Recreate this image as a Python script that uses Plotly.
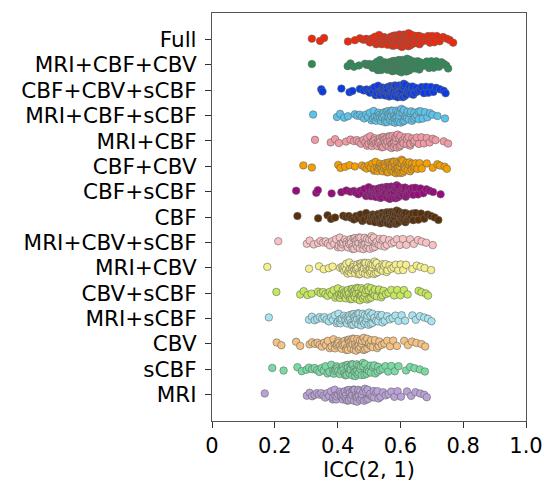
import plotly.graph_objects as go

categories = ["Full", "MRI+CBF+CBV", "CBF+CBV+sCBF", "MRI+CBF+sCBF", "MRI+CBF", "CBF+CBV",
              "CBF+sCBF", "CBF", "MRI+CBV+sCBF", "MRI+CBV", "CBV+sCBF", "MRI+sCBF", "CBV", "sCBF", "MRI"]

colors = ["#f0280a", "#2e8b57", "#0a3ce6", "#5ac4ec", "#f29aa4", "#f59e00", "#990a7e", "#5a300a",
          "#f8c2c4", "#f6f08c", "#c6e85c", "#a8e4f0", "#f4c282", "#78dca2", "#baa2d8"]

full = [0.318, 0.344, 0.357, 0.433, 0.455, 0.471, 0.482, 0.491, 0.498, 0.503, 0.509, 0.514, 0.519, 0.523, 0.528, 0.532, 0.536, 0.541, 0.545, 0.548, 0.552, 0.556, 0.559, 0.562, 0.566, 0.569, 0.572, 0.575, 0.578, 0.581, 0.584, 0.587, 0.589, 0.592, 0.595, 0.597, 0.600, 0.603, 0.605, 0.608, 0.611, 0.614, 0.616, 0.619, 0.622, 0.625, 0.628, 0.631, 0.634, 0.637, 0.641, 0.644, 0.648, 0.652, 0.656, 0.661, 0.665, 0.670, 0.676, 0.682, 0.688, 0.694, 0.701, 0.708, 0.716, 0.725, 0.736, 0.748, 0.757, 0.768, 0.585, 0.598, 0.612, 0.626, 0.573, 0.546, 0.639, 0.659, 0.602, 0.618]
mri_cbf_cbv = [0.318, 0.432, 0.441, 0.452, 0.468, 0.487, 0.494, 0.501, 0.507, 0.512, 0.517, 0.521, 0.526, 0.531, 0.535, 0.539, 0.543, 0.547, 0.551, 0.555, 0.559, 0.562, 0.566, 0.569, 0.573, 0.576, 0.579, 0.582, 0.585, 0.588, 0.591, 0.594, 0.597, 0.600, 0.603, 0.606, 0.609, 0.612, 0.615, 0.618, 0.621, 0.624, 0.627, 0.631, 0.634, 0.638, 0.642, 0.646, 0.650, 0.655, 0.660, 0.665, 0.671, 0.677, 0.684, 0.691, 0.698, 0.706, 0.714, 0.723, 0.731, 0.739, 0.746, 0.752, 0.593, 0.607, 0.581, 0.619, 0.567, 0.629, 0.553, 0.641, 0.598, 0.611, 0.574, 0.537, 0.662, 0.589, 0.604, 0.528]
cbf_cbv_scbf = [0.348, 0.352, 0.412, 0.438, 0.447, 0.471, 0.483, 0.492, 0.498, 0.503, 0.508, 0.513, 0.517, 0.521, 0.525, 0.529, 0.533, 0.537, 0.541, 0.545, 0.548, 0.552, 0.556, 0.559, 0.563, 0.566, 0.569, 0.573, 0.576, 0.579, 0.582, 0.585, 0.588, 0.592, 0.595, 0.598, 0.601, 0.604, 0.608, 0.611, 0.614, 0.618, 0.621, 0.625, 0.629, 0.633, 0.637, 0.641, 0.646, 0.651, 0.656, 0.662, 0.668, 0.675, 0.682, 0.689, 0.697, 0.705, 0.714, 0.726, 0.738, 0.744, 0.587, 0.571, 0.603, 0.558, 0.616, 0.543, 0.594, 0.579, 0.627, 0.535, 0.608, 0.564, 0.583, 0.639, 0.599, 0.551, 0.612, 0.574]
mri_cbf_scbf = [0.322, 0.398, 0.408, 0.421, 0.433, 0.455, 0.463, 0.471, 0.478, 0.485, 0.491, 0.497, 0.503, 0.508, 0.513, 0.518, 0.522, 0.527, 0.531, 0.535, 0.539, 0.543, 0.547, 0.551, 0.555, 0.559, 0.563, 0.567, 0.571, 0.575, 0.579, 0.583, 0.587, 0.591, 0.595, 0.599, 0.603, 0.607, 0.611, 0.615, 0.619, 0.623, 0.627, 0.632, 0.637, 0.642, 0.647, 0.652, 0.658, 0.664, 0.671, 0.678, 0.686, 0.694, 0.702, 0.718, 0.742, 0.568, 0.584, 0.552, 0.596, 0.541, 0.609, 0.576, 0.533, 0.621, 0.562, 0.588, 0.515, 0.634, 0.571, 0.601, 0.549, 0.659, 0.526, 0.613, 0.581, 0.558, 0.644, 0.593]
mri_cbf = [0.328, 0.378, 0.392, 0.404, 0.427, 0.441, 0.452, 0.461, 0.468, 0.475, 0.482, 0.488, 0.494, 0.499, 0.504, 0.509, 0.514, 0.518, 0.523, 0.527, 0.531, 0.535, 0.539, 0.543, 0.547, 0.551, 0.555, 0.559, 0.563, 0.567, 0.571, 0.575, 0.579, 0.583, 0.587, 0.591, 0.596, 0.600, 0.605, 0.610, 0.615, 0.620, 0.626, 0.632, 0.638, 0.645, 0.652, 0.659, 0.667, 0.675, 0.684, 0.693, 0.703, 0.712, 0.738, 0.752, 0.556, 0.572, 0.541, 0.584, 0.529, 0.597, 0.563, 0.518, 0.608, 0.549, 0.579, 0.507, 0.621, 0.567, 0.589, 0.536, 0.642, 0.512, 0.601, 0.574, 0.545, 0.631, 0.585, 0.494]
cbf_cbv = [0.291, 0.318, 0.402, 0.409, 0.424, 0.438, 0.455, 0.478, 0.486, 0.493, 0.499, 0.505, 0.511, 0.516, 0.521, 0.526, 0.531, 0.535, 0.540, 0.544, 0.548, 0.552, 0.556, 0.560, 0.564, 0.568, 0.572, 0.576, 0.580, 0.584, 0.588, 0.592, 0.596, 0.600, 0.604, 0.608, 0.612, 0.616, 0.621, 0.626, 0.631, 0.636, 0.642, 0.648, 0.654, 0.661, 0.668, 0.684, 0.703, 0.718, 0.726, 0.741, 0.748, 0.582, 0.567, 0.598, 0.553, 0.611, 0.539, 0.589, 0.574, 0.623, 0.528, 0.604, 0.561, 0.594, 0.637, 0.546, 0.615, 0.578, 0.517, 0.601, 0.586, 0.558, 0.629, 0.571, 0.645, 0.592, 0.534, 0.607]
cbf_scbf = [0.268, 0.332, 0.337, 0.381, 0.412, 0.428, 0.441, 0.452, 0.459, 0.466, 0.473, 0.479, 0.485, 0.491, 0.497, 0.502, 0.507, 0.512, 0.517, 0.522, 0.527, 0.531, 0.536, 0.540, 0.545, 0.549, 0.553, 0.558, 0.562, 0.566, 0.571, 0.575, 0.579, 0.584, 0.588, 0.593, 0.597, 0.602, 0.607, 0.612, 0.617, 0.622, 0.628, 0.634, 0.641, 0.648, 0.656, 0.664, 0.673, 0.683, 0.693, 0.704, 0.728, 0.551, 0.567, 0.538, 0.579, 0.524, 0.591, 0.556, 0.512, 0.603, 0.543, 0.571, 0.499, 0.615, 0.561, 0.583, 0.529, 0.627, 0.508, 0.596, 0.547, 0.574, 0.638, 0.533, 0.588, 0.564, 0.519, 0.609]
cbf = [0.272, 0.338, 0.368, 0.379, 0.392, 0.418, 0.427, 0.436, 0.444, 0.452, 0.459, 0.466, 0.473, 0.479, 0.485, 0.491, 0.497, 0.503, 0.508, 0.514, 0.519, 0.524, 0.529, 0.534, 0.539, 0.544, 0.549, 0.554, 0.558, 0.563, 0.567, 0.572, 0.576, 0.581, 0.585, 0.590, 0.595, 0.600, 0.605, 0.610, 0.616, 0.622, 0.628, 0.634, 0.641, 0.649, 0.657, 0.666, 0.676, 0.687, 0.698, 0.709, 0.721, 0.556, 0.571, 0.543, 0.583, 0.531, 0.594, 0.562, 0.518, 0.605, 0.549, 0.577, 0.506, 0.616, 0.566, 0.588, 0.536, 0.627, 0.512, 0.599, 0.553, 0.574, 0.639, 0.541, 0.591, 0.568, 0.524, 0.611]
mri_cbv_scbf = [0.211, 0.302, 0.311, 0.324, 0.338, 0.346, 0.354, 0.362, 0.369, 0.376, 0.383, 0.389, 0.395, 0.401, 0.407, 0.412, 0.418, 0.423, 0.428, 0.433, 0.438, 0.443, 0.448, 0.453, 0.458, 0.463, 0.468, 0.473, 0.478, 0.483, 0.488, 0.493, 0.498, 0.503, 0.508, 0.513, 0.519, 0.525, 0.531, 0.537, 0.543, 0.550, 0.557, 0.564, 0.572, 0.580, 0.589, 0.598, 0.608, 0.619, 0.631, 0.643, 0.656, 0.668, 0.682, 0.703, 0.455, 0.471, 0.442, 0.486, 0.429, 0.497, 0.463, 0.416, 0.509, 0.451, 0.478, 0.404, 0.521, 0.467, 0.492, 0.436, 0.534, 0.411, 0.501, 0.459, 0.482, 0.547, 0.447, 0.515]
mri_cbv = [0.176, 0.309, 0.341, 0.356, 0.372, 0.384, 0.408, 0.415, 0.421, 0.427, 0.432, 0.437, 0.442, 0.447, 0.451, 0.456, 0.460, 0.464, 0.468, 0.472, 0.476, 0.480, 0.484, 0.488, 0.492, 0.496, 0.500, 0.504, 0.508, 0.512, 0.516, 0.520, 0.524, 0.528, 0.533, 0.538, 0.543, 0.548, 0.553, 0.559, 0.565, 0.571, 0.578, 0.585, 0.593, 0.601, 0.609, 0.618, 0.638, 0.652, 0.664, 0.677, 0.698, 0.463, 0.479, 0.451, 0.494, 0.439, 0.507, 0.471, 0.428, 0.518, 0.459, 0.486, 0.417, 0.531, 0.475, 0.499, 0.445, 0.544, 0.422, 0.511, 0.467, 0.489, 0.556, 0.454, 0.522, 0.483, 0.435, 0.503]
cbv_scbf = [0.205, 0.281, 0.292, 0.304, 0.317, 0.338, 0.346, 0.354, 0.361, 0.368, 0.375, 0.381, 0.387, 0.393, 0.399, 0.405, 0.411, 0.416, 0.421, 0.426, 0.431, 0.436, 0.441, 0.446, 0.451, 0.456, 0.461, 0.466, 0.471, 0.476, 0.481, 0.486, 0.491, 0.496, 0.501, 0.507, 0.513, 0.519, 0.525, 0.532, 0.539, 0.546, 0.554, 0.562, 0.571, 0.580, 0.590, 0.600, 0.611, 0.623, 0.658, 0.667, 0.681, 0.688, 0.452, 0.467, 0.439, 0.482, 0.426, 0.494, 0.459, 0.413, 0.506, 0.447, 0.474, 0.401, 0.518, 0.463, 0.488, 0.433, 0.531, 0.408, 0.499, 0.455, 0.478, 0.543, 0.444, 0.512, 0.471, 0.421]
mri_scbf = [0.181, 0.309, 0.318, 0.327, 0.335, 0.343, 0.351, 0.358, 0.365, 0.372, 0.379, 0.385, 0.391, 0.397, 0.403, 0.409, 0.414, 0.420, 0.425, 0.430, 0.435, 0.440, 0.445, 0.450, 0.455, 0.460, 0.465, 0.470, 0.475, 0.480, 0.485, 0.490, 0.495, 0.500, 0.505, 0.511, 0.517, 0.523, 0.529, 0.536, 0.543, 0.550, 0.558, 0.566, 0.575, 0.584, 0.594, 0.604, 0.615, 0.638, 0.649, 0.662, 0.676, 0.688, 0.699, 0.451, 0.466, 0.438, 0.481, 0.425, 0.493, 0.458, 0.412, 0.505, 0.446, 0.473, 0.401, 0.517, 0.462, 0.487, 0.432, 0.529, 0.407, 0.498, 0.454, 0.477, 0.541, 0.443, 0.511, 0.469]
cbv = [0.206, 0.221, 0.268, 0.281, 0.311, 0.319, 0.328, 0.336, 0.343, 0.350, 0.357, 0.363, 0.369, 0.375, 0.381, 0.387, 0.392, 0.398, 0.403, 0.408, 0.413, 0.418, 0.423, 0.428, 0.433, 0.438, 0.443, 0.448, 0.453, 0.458, 0.463, 0.468, 0.473, 0.478, 0.483, 0.488, 0.494, 0.500, 0.506, 0.512, 0.519, 0.526, 0.533, 0.541, 0.549, 0.558, 0.567, 0.577, 0.589, 0.612, 0.624, 0.637, 0.651, 0.667, 0.679, 0.441, 0.456, 0.428, 0.471, 0.415, 0.483, 0.448, 0.402, 0.495, 0.436, 0.463, 0.391, 0.507, 0.452, 0.477, 0.422, 0.519, 0.397, 0.488, 0.444, 0.467, 0.531, 0.433, 0.501, 0.459]
scbf = [0.192, 0.228, 0.272, 0.286, 0.301, 0.309, 0.319, 0.327, 0.335, 0.342, 0.349, 0.356, 0.362, 0.368, 0.374, 0.380, 0.386, 0.391, 0.397, 0.402, 0.407, 0.412, 0.417, 0.422, 0.427, 0.432, 0.437, 0.442, 0.447, 0.452, 0.457, 0.462, 0.467, 0.472, 0.477, 0.482, 0.488, 0.494, 0.500, 0.506, 0.513, 0.520, 0.527, 0.535, 0.543, 0.552, 0.561, 0.571, 0.582, 0.594, 0.618, 0.631, 0.645, 0.662, 0.678, 0.438, 0.453, 0.425, 0.468, 0.412, 0.481, 0.445, 0.399, 0.493, 0.433, 0.461, 0.388, 0.505, 0.449, 0.474, 0.419, 0.517, 0.394, 0.486, 0.441, 0.464, 0.529, 0.429, 0.498, 0.456]
mri = [0.168, 0.302, 0.311, 0.319, 0.327, 0.334, 0.341, 0.348, 0.355, 0.361, 0.367, 0.373, 0.379, 0.385, 0.391, 0.396, 0.402, 0.407, 0.412, 0.417, 0.422, 0.427, 0.432, 0.437, 0.442, 0.447, 0.452, 0.457, 0.462, 0.467, 0.472, 0.477, 0.482, 0.487, 0.492, 0.498, 0.504, 0.510, 0.516, 0.523, 0.530, 0.537, 0.545, 0.553, 0.562, 0.571, 0.581, 0.591, 0.602, 0.621, 0.634, 0.648, 0.663, 0.676, 0.684, 0.436, 0.451, 0.423, 0.466, 0.410, 0.478, 0.443, 0.397, 0.491, 0.431, 0.458, 0.386, 0.503, 0.447, 0.472, 0.417, 0.515, 0.392, 0.484, 0.439, 0.462, 0.527, 0.427, 0.496, 0.454]

series = [full, mri_cbf_cbv, cbf_cbv_scbf, mri_cbf_scbf, mri_cbf, cbf_cbv, cbf_scbf, cbf,
          mri_cbv_scbf, mri_cbv, cbv_scbf, mri_scbf, cbv, scbf, mri]

xtick_vals = [0, 0.2, 0.4, 0.6, 0.8, 1.0]
xtick_text = ["0", "0.2", "0.4", "0.6", "0.8", "1.0"]

fig = go.Figure()
for cat, vals, col in zip(categories, series, colors):
    fig.add_trace(go.Box(
        x=vals, y=[cat] * len(vals), orientation="h", name=cat,
        boxpoints="all", jitter=1.0, pointpos=0,
        fillcolor="rgba(0,0,0,0)", line=dict(color="rgba(0,0,0,0)", width=0),
        marker=dict(size=7.5, color=col, line=dict(color="#666666", width=0.6)),
        showlegend=False, hoveron="points",
    ))

fig.update_layout(
    width=544, height=482,
    margin=dict(l=212, r=18, t=13, b=61),
    plot_bgcolor="white", paper_bgcolor="white",
    font=dict(family="DejaVu Sans", size=21.5, color="black"),
    boxmode="overlay", boxgap=0.15,
    showlegend=False,
)
fig.update_xaxes(
    range=[0, 1], tickmode="array", tickvals=xtick_vals, ticktext=xtick_text,
    ticks="outside", ticklen=6, tickwidth=1.2, tickcolor="#333",
    showline=True, linecolor="#555", linewidth=1.2, mirror=True,
    showgrid=False, zeroline=False, automargin=False,
    tickfont=dict(size=21),
    title=dict(text="ICC(2, 1)", standoff=2, font=dict(size=21)),
)
fig.update_yaxes(
    type="category", categoryorder="array", categoryarray=categories[::-1],
    tickmode="array", tickvals=categories, ticktext=categories,
    range=[-1.05, 15.05], automargin=False, ticklabelstandoff=4,
    ticks="outside", ticklen=6, tickwidth=1.2, tickcolor="#333",
    showline=True, linecolor="#555", linewidth=1.2, mirror=True,
    showgrid=False, zeroline=False,
)

fig.write_html("out.html")
